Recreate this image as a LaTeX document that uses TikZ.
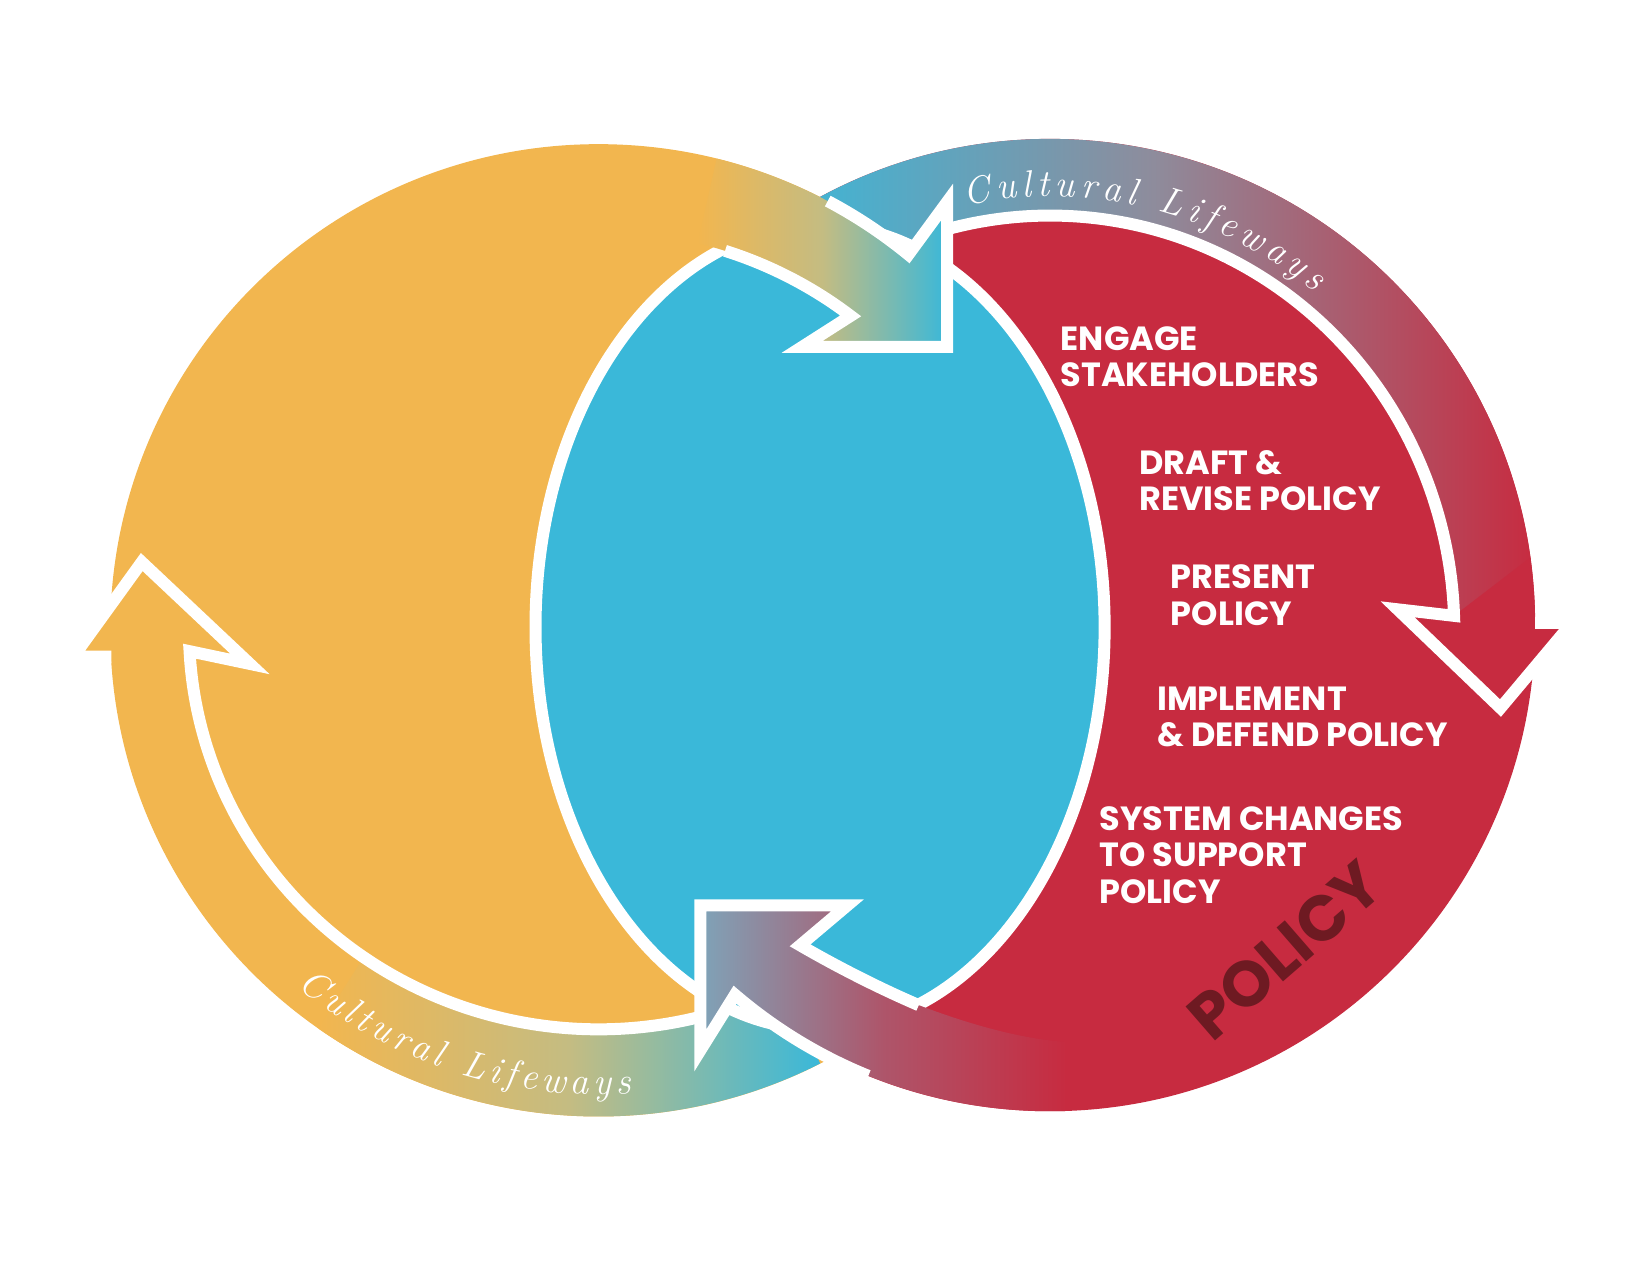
\documentclass[tikz,border=0pt]{standalone}
\usepackage{fontspec}
\usetikzlibrary{decorations.text}
\newfontfamily\labfont{Poppins}
\definecolor{corange}{HTML}{F2B64F}
\definecolor{cblue}{HTML}{3AB8D9}
\definecolor{cred}{HTML}{C72B40}
\definecolor{cdark}{HTML}{6E1A22}
\definecolor{cmauve}{HTML}{8E8C9C}
\definecolor{cgrayblue}{HTML}{7FA3B8}
\definecolor{cgreen}{HTML}{C4BC82}
\tikzset{
  wline/.style={draw=white,line width=12pt,line join=miter},
  lab/.style={anchor=west,inner sep=0pt,align=left,text=white,font=\labfont\bfseries\fontsize{33.5}{36.5}\selectfont},
}
\begin{document}
\begin{tikzpicture}[x=1.05pt,y=1.05pt]
\useasboundingbox (0,0) rectangle (1571.4,1214.3);
% base ellipses
\fill[corange] (570,614) ellipse [x radius=465,y radius=463];
\fill[cred] (1000,619) ellipse [x radius=462,y radius=463];
% red top band (gradient part) and arrowhead
\shade[left color=cblue,right color=cred,middle color=cmauve]
  ([shift={(1000,619)}]125:462 and 463) arc[start angle=125,end angle=2,x radius=462,y radius=463]
  -- ([shift={(1000,614)}]2:385 and 395) arc[start angle=2,end angle=125,x radius=385,y radius=395] -- cycle;
\fill[cred] ([shift={(1000,619)}]8:462 and 463) -- (1462,621) -- (1497,621) -- (1429,540) -- (1331,634) -- (1385,628) -- cycle;
% orange bottom band (gradient part) and arrowhead
\shade[left color=corange,right color=cblue,middle color=cgreen]
  ([shift={(570,614)}]235:465 and 463) arc[start angle=235,end angle=297,x radius=465,y radius=463]
  -- ([shift={(570,614)}]297:390 and 380) arc[start angle=297,end angle=235,x radius=390,y radius=380] -- cycle;
\fill[corange] (106,589) -- (70,589) -- (135,679) -- (238,582) -- (180,594) -- cycle;
% lens
\filldraw[fill=cblue,wline] (781,617) ellipse [x radius=271,y radius=383];
% strokes for big bands
\draw[wline] ([shift={(1000,614)}]106:385 and 395) arc[start angle=106,end angle=2,x radius=385,y radius=395]
  -- (1331,634) -- (1429,540) -- (1497,621) -- (1462,621);
\draw[wline] ([shift={(570,614)}]286:390 and 380) arc[start angle=286,end angle=183,x radius=390,y radius=380]
  -- (238,582) -- (135,679) -- (70,589) -- (106,589);
% top middle arrow (orange -> blue)
\shade[left color=corange,right color=cblue,middle color=cgreen]
  ([shift={(570,614)}]76:465 and 463) arc[start angle=76,end angle=50.6,x radius=465,y radius=463]
  -- (902,1022) -- (902,884) -- (764,884)
  -- ([shift={(570,614)}]52:390 and 380) arc[start angle=52,end angle=76,x radius=390,y radius=380] -- cycle;
\draw[wline] ([shift={(570,614)}]62:465 and 463) arc[start angle=62,end angle=50.6,x radius=465,y radius=463]
  -- (902,1022) -- (902,884) -- (764,884)
  -- ([shift={(570,614)}]52:390 and 380) arc[start angle=52,end angle=72,x radius=390,y radius=380];
% bottom middle arrow (red -> blue)
\shade[left color=cgrayblue,right color=cred,middle color=cred!65!cgrayblue]
  ([shift={(1000,619)}]-88:462 and 463) arc[start angle=-88,end angle=-130.5,x radius=462,y radius=463]
  -- (667,214) -- (667,352) -- (807,352) -- (762,314)
  .. controls (800,292) and (840,272) .. (875,257)
  .. controls (920,240) and (970,225) .. (1015,222) -- cycle;
\draw[wline] ([shift={(1000,619)}]-112:462 and 463) arc[start angle=-112,end angle=-130.5,x radius=462,y radius=463]
  -- (667,214) -- (667,352) -- (807,352) -- (762,314)
  .. controls (800,292) and (840,272) .. (875,257);
% curved texts
\path[decorate,decoration={text along path,text align={fit to path},
  text={|\color{white}\itshape\fontsize{38}{38}\selectfont|Cultural Lifeways}}]
  ([shift={(1000,619)}]101.6:400 and 408) arc[start angle=101.6,end angle=51,x radius=400,y radius=408];
\path[decorate,decoration={text along path,text align={fit to path},
  text={|\color{white}\itshape\fontsize{38}{38}\selectfont|Cultural Lifeways}}]
  ([shift={(570,614)}]230:447 and 442) arc[start angle=230,end angle=274,x radius=447,y radius=442];
% labels
\node[lab] (engage) at (1010,874.5) {ENGAGE\\STAKEHOLDERS};
\node[lab] (draft) at (1085,756.5) {DRAFT \&\\REVISE POLICY};
\node[lab] (present) at (1115,647.5) {PRESENT\\POLICY};
\node[lab] (implement) at (1102,531.5) {IMPLEMENT\\\& DEFEND POLICY};
\node[lab] (system) at (1047,400) {SYSTEM CHANGES\\TO SUPPORT\\POLICY};
\node[inner sep=0pt,text=cdark,rotate=41,font=\labfont\bfseries\fontsize{64}{64}\selectfont] (policy) at (1224,309) {POLICY};
\end{tikzpicture}
\end{document}
